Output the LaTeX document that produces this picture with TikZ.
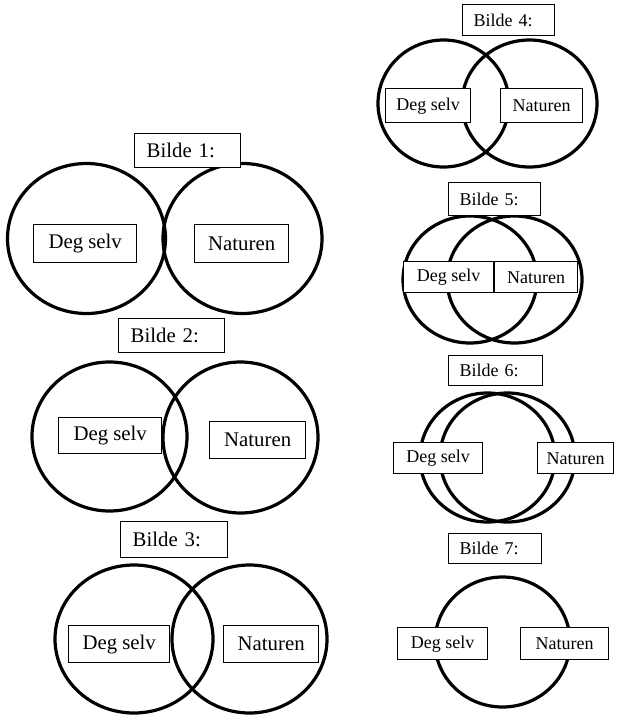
\documentclass[tikz,border=0pt]{standalone}
\usepackage{fontspec}
\setmainfont{Liberation Serif}
\begin{document}
\begin{tikzpicture}[x=1pt,y=-1pt,
  ring/.style={line width=3.2pt},
  lbl/.style={draw, line width=1.4pt, fill=white, anchor=north west, inner sep=0pt, font=\fontsize{20.8}{24}\selectfont},
  lblr/.style={lbl, font=\fontsize{18}{21}\selectfont},
  ttl/.style={lbl, align=left, inner xsep=12pt},
  ttlr/.style={lblr, align=left, inner xsep=11pt}]
\useasboundingbox (0,0) rectangle (621,715);

% Bilde 1
\draw[ring] (86.5,238.5) ellipse [x radius=79pt, y radius=75pt];
\draw[ring] (242.5,238.5) ellipse [x radius=79.5pt, y radius=75pt];
\node[ttl, text width=82pt, minimum height=34pt] (t1) at (134,133) {Bilde 1:};
\node[lbl, minimum width=103pt, minimum height=38pt] (s1) at (33,224) {Deg selv};
\node[lbl, minimum width=94pt, minimum height=38pt] (n1) at (194,224) {Naturen};

% Bilde 2
\draw[ring] (109.5,436.5) ellipse [x radius=77.5pt, y radius=74.5pt];
\draw[ring] (240.5,437.5) ellipse [x radius=77.5pt, y radius=75.5pt];
\node[ttl, text width=82pt, minimum height=34pt] (t2) at (118,318) {Bilde 2:};
\node[lbl, minimum width=103pt, minimum height=36pt] (s2) at (58,417) {Deg selv};
\node[lbl, minimum width=96pt, minimum height=37pt] (n2) at (209,421) {Naturen};

% Bilde 3
\draw[ring] (134,639) ellipse [x radius=79pt, y radius=74pt];
\draw[ring] (249.5,639) ellipse [x radius=77.5pt, y radius=74pt];
\node[ttl, text width=83pt, minimum height=36pt] (t3) at (120,521) {Bilde 3:};
\node[lbl, minimum width=101pt, minimum height=37pt] (s3) at (68,625) {Deg selv};
\node[lbl, minimum width=95pt, minimum height=37pt] (n3) at (223,625) {Naturen};

% Bilde 4
\draw[ring] (443.5,103.5) ellipse [x radius=65.5pt, y radius=63.5pt];
\draw[ring] (529.5,103.5) ellipse [x radius=67.5pt, y radius=63.5pt];
\node[ttlr, text width=70pt, minimum height=31pt] (t4) at (462,4) {Bilde 4:};
\node[lblr, minimum width=85pt, minimum height=34pt] (s4) at (385,88) {Deg selv};
\node[lblr, minimum width=82pt, minimum height=34pt] (n4) at (500,88) {Naturen};

% Bilde 5
\draw[ring] (470,279.5) ellipse [x radius=67pt, y radius=63.5pt];
\draw[ring] (514.5,279.5) ellipse [x radius=67.5pt, y radius=63.5pt];
\node[ttlr, text width=70pt, minimum height=33pt] (t5) at (448,182) {Bilde 5:};
\node[lblr, minimum width=90pt, minimum height=31pt] (s5) at (403,261) {Deg selv};
\node[lblr, minimum width=83pt, minimum height=31pt] (n5) at (494,261) {Naturen};

% Bilde 6
\draw[ring] (487.5,457.5) ellipse [x radius=67.5pt, y radius=64.5pt];
\draw[ring] (507.5,457.5) ellipse [x radius=67.5pt, y radius=64.5pt];
\node[ttlr, text width=72pt, minimum height=30pt] (t6) at (448,355) {Bilde 6:};
\node[lblr, minimum width=89pt, minimum height=31pt] (s6) at (393,442) {Deg selv};
\node[lblr, minimum width=76pt, minimum height=31pt] (n6) at (537,442) {Naturen};

% Bilde 7
\draw[ring] (502.5,642) ellipse [x radius=67.5pt, y radius=65pt];
\node[ttlr, text width=71pt, minimum height=30pt] (t7) at (448,533) {Bilde 7:};
\node[lblr, minimum width=90pt, minimum height=32pt] (s7) at (397,627) {Deg selv};
\node[lblr, minimum width=88pt, minimum height=32pt] (n7) at (520,627) {Naturen};
\end{tikzpicture}
\end{document}
